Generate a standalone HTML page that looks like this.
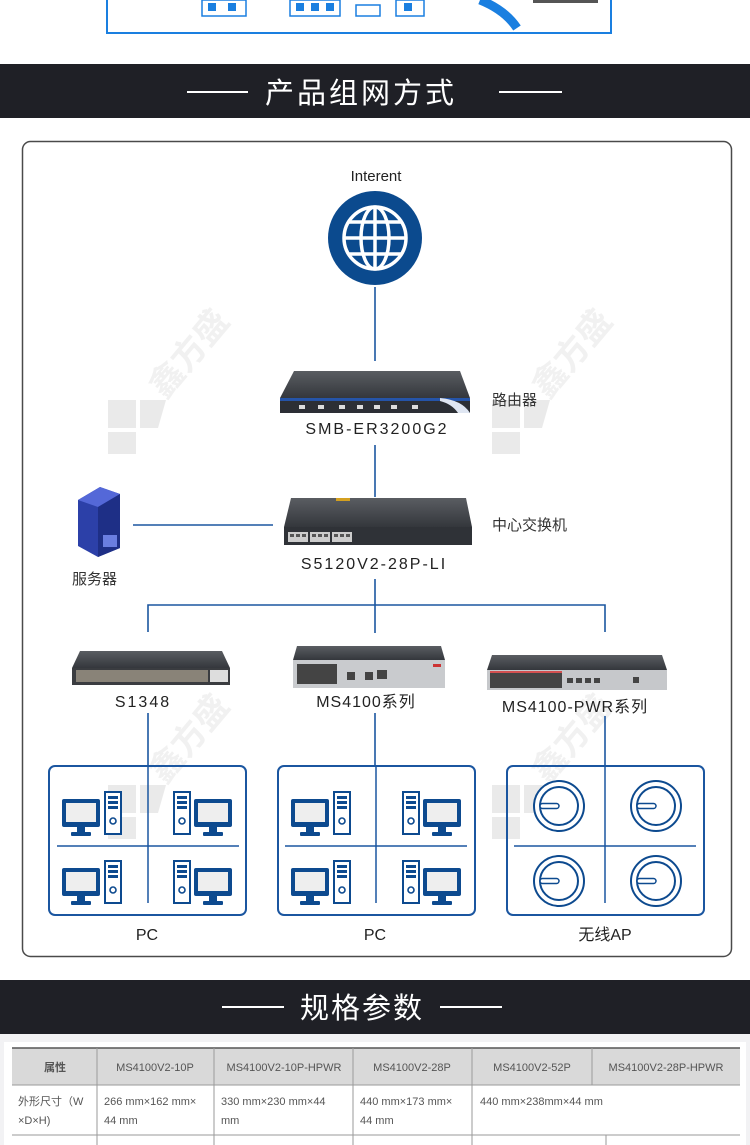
<!DOCTYPE html>
<html><head><meta charset="utf-8"><style>
body{margin:0;width:750px;height:1145px;overflow:hidden;background:#fff;font-family:"Liberation Sans","Noto Sans CJK SC",sans-serif}
svg{display:block}
</style></head><body>
<svg width="750" height="1145" viewBox="0 0 750 1145" xmlns="http://www.w3.org/2000/svg" font-family="Liberation Sans, Noto Sans CJK SC, sans-serif">
<defs>
<g id="mon"><rect x="0" y="6" width="38" height="28" rx="2" fill="#0d4a8f"/><rect x="4" y="10" width="30" height="19" fill="#eeeeee"/><rect x="15" y="34" width="8" height="6" fill="#0d4a8f"/><rect x="9" y="39" width="20" height="4" rx="1" fill="#0d4a8f"/></g>
<g id="tow"><rect x="1" y="1" width="16" height="42" fill="#fff" stroke="#0d4a8f" stroke-width="2"/><rect x="4" y="5" width="10" height="3" fill="#0d4a8f"/><rect x="4" y="10" width="10" height="3" fill="#0d4a8f"/><rect x="4" y="15" width="10" height="3" fill="#0d4a8f"/><circle cx="9" cy="30" r="3" fill="none" stroke="#0d4a8f" stroke-width="1.6"/></g>
<g id="pcL"><use href="#mon" x="0" y="2"/><use href="#tow" x="42" y="0"/></g>
<g id="pcR"><use href="#tow" x="0" y="0"/><use href="#mon" x="21" y="2"/></g>
<g id="ap"><circle r="25" fill="#fff" stroke="#0d4a8f" stroke-width="2"/><circle r="19" fill="none" stroke="#0d4a8f" stroke-width="2"/><rect x="-19" y="-2.5" width="19" height="5" rx="2.5" fill="#fff" stroke="#0d4a8f" stroke-width="1.5"/></g>
<linearGradient id="dk" x1="0" y1="0" x2="0" y2="1"><stop offset="0" stop-color="#5a5d62"/><stop offset="1" stop-color="#34373c"/></linearGradient>
<g id="wm" fill="#d9d9d9" opacity="0.55"><path d="M0 0h28v28h-28z"/><path d="M32 0h26l-8 28h-18z"/><path d="M0 32h28v22h-28z"/></g>
</defs>

<rect x="0" y="0" width="750" height="64" fill="#fff"/>
<path d="M107 0V33H611V0" fill="none" stroke="#1a7fe0" stroke-width="2"/>
<g fill="none" stroke="#1a7fe0" stroke-width="1.5"><rect x="202" y="0" width="44" height="16"/><rect x="290" y="0" width="50" height="16"/><rect x="356" y="5" width="24" height="11"/><rect x="396" y="0" width="28" height="16"/></g>
<g fill="#1a7fe0"><rect x="208" y="3" width="8" height="8"/><rect x="228" y="3" width="8" height="8"/><rect x="296" y="3" width="8" height="8"/><rect x="311" y="3" width="8" height="8"/><rect x="326" y="3" width="8" height="8"/><rect x="404" y="3" width="8" height="8"/></g>
<path d="M480 0 Q505 10 517 28" fill="none" stroke="#1a7fe0" stroke-width="9"/>
<rect x="533" y="0" width="65" height="3" fill="#555"/>

<rect x="0" y="64" width="750" height="54" fill="#1f2026"/>
<line x1="187" y1="92" x2="248" y2="92" stroke="#fff" stroke-width="2"/>
<line x1="499" y1="92" x2="562" y2="92" stroke="#fff" stroke-width="2"/>
<text x="361" y="103" font-size="29" fill="#fff" text-anchor="middle" letter-spacing="3">产品组网方式</text>

<rect x="22.5" y="141.5" width="709" height="815" rx="8" fill="#fff" stroke="#4a4a4a" stroke-width="1.5"/>

<use href="#wm" x="108" y="400"/><use href="#wm" x="492" y="400"/><use href="#wm" x="108" y="785"/><use href="#wm" x="492" y="785"/>
<g fill="#e2e2e2" opacity="0.5" font-size="34" font-weight="bold"><text transform="translate(165,400) rotate(-50)">鑫方盛</text><text transform="translate(548,400) rotate(-50)">鑫方盛</text><text transform="translate(165,785) rotate(-50)">鑫方盛</text><text transform="translate(548,785) rotate(-50)">鑫方盛</text></g>

<text x="376" y="181" font-size="15" fill="#222" text-anchor="middle">Interent</text>
<circle cx="375" cy="238" r="47" fill="#0b4a8e"/>
<g fill="none" stroke="#fff" stroke-width="3.5"><circle cx="375" cy="238" r="31"/><ellipse cx="375" cy="238" rx="14" ry="31"/><line x1="375" y1="207" x2="375" y2="269"/><line x1="344" y1="238" x2="406" y2="238"/><line x1="349" y1="222" x2="401" y2="222"/><line x1="349" y1="254" x2="401" y2="254"/></g>

<g stroke="#1b56a0" stroke-width="1.6" fill="none">
<line x1="375" y1="287" x2="375" y2="361"/>
<line x1="375" y1="445" x2="375" y2="497"/>
<line x1="133" y1="525" x2="273" y2="525"/>
<line x1="375" y1="579" x2="375" y2="633"/>
<path d="M148 632V605H605V632"/>
<line x1="148" y1="713" x2="148" y2="766"/>
<line x1="375" y1="713" x2="375" y2="766"/>
<line x1="605" y1="716" x2="605" y2="766"/>
</g>

<path d="M294 371H460L470 398H280Z" fill="url(#dk)"/>
<rect x="280" y="398" width="190" height="15" fill="#2c2f35"/>
<rect x="280" y="398" width="190" height="3" fill="#2554a8"/>
<path d="M440 398Q462 400 470 413H458Q452 404 440 401Z" fill="#dfe6f2"/>
<g fill="#ddd"><rect x="299" y="405" width="6" height="4"/><rect x="318" y="405" width="6" height="4"/><rect x="339" y="405" width="6" height="4"/><rect x="357" y="405" width="6" height="4"/><rect x="374" y="405" width="6" height="4"/><rect x="391" y="405" width="6" height="4"/><rect x="412" y="405" width="6" height="4"/></g>
<text x="377" y="434" font-size="16" fill="#222" text-anchor="middle" letter-spacing="2">SMB-ER3200G2</text>
<text x="492" y="405" font-size="15" fill="#333">路由器</text>

<path d="M291 498H466L472 527H284Z" fill="url(#dk)"/>
<rect x="284" y="527" width="188" height="18" fill="#2f3237"/>
<rect x="336" y="498" width="14" height="3" fill="#d4a020"/>
<g fill="#ccc"><rect x="288" y="532" width="20" height="10"/><rect x="310" y="532" width="20" height="10"/><rect x="332" y="532" width="20" height="10"/></g>
<g fill="#555"><rect x="290" y="534" width="4" height="3"/><rect x="296" y="534" width="4" height="3"/><rect x="302" y="534" width="4" height="3"/><rect x="312" y="534" width="4" height="3"/><rect x="318" y="534" width="4" height="3"/><rect x="324" y="534" width="4" height="3"/><rect x="334" y="534" width="4" height="3"/><rect x="340" y="534" width="4" height="3"/><rect x="346" y="534" width="4" height="3"/></g>
<text x="374" y="569" font-size="16" fill="#222" text-anchor="middle" letter-spacing="2">S5120V2-28P-LI</text>
<text x="492" y="530" font-size="15" fill="#333">中心交换机</text>

<path d="M78 500L100 487L120 494V548L98 557L78 546Z" fill="#2c40a8"/>
<path d="M78 500L100 487L120 494L98 507Z" fill="#5468d8"/>
<path d="M98 507L120 494V548L98 557Z" fill="#1e2f86"/>
<rect x="103" y="535" width="14" height="12" fill="#6a7ee0"/>
<text x="72" y="584" font-size="15" fill="#333">服务器</text>

<path d="M80 651H222L230 668H72Z" fill="url(#dk)"/>
<rect x="72" y="668" width="158" height="17" fill="#3a3c40"/>
<rect x="76" y="670" width="132" height="12" fill="#d8c9b0" opacity="0.5"/>
<rect x="210" y="670" width="18" height="12" fill="#ddd"/>
<text x="143" y="707" font-size="16" fill="#222" text-anchor="middle" letter-spacing="2">S1348</text>

<path d="M297 646H441L445 660H293Z" fill="url(#dk)"/>
<rect x="293" y="660" width="152" height="28" fill="#c9cbce"/>
<rect x="297" y="664" width="40" height="20" fill="#444"/>
<rect x="347" y="672" width="8" height="8" fill="#444"/><rect x="365" y="672" width="8" height="8" fill="#444"/><rect x="377" y="670" width="10" height="9" fill="#444"/>
<rect x="433" y="664" width="8" height="3" fill="#c33"/>
<text x="366" y="707" font-size="16" fill="#222" text-anchor="middle" letter-spacing="1">MS4100系列</text>

<path d="M492 655H662L667 670H487Z" fill="url(#dk)"/>
<rect x="487" y="670" width="180" height="20" fill="#c6c8cb"/>
<rect x="490" y="672" width="72" height="16" fill="#444"/>
<rect x="490" y="671" width="72" height="2" fill="#d35050"/>
<g fill="#444"><rect x="567" y="678" width="6" height="5"/><rect x="576" y="678" width="6" height="5"/><rect x="585" y="678" width="6" height="5"/><rect x="594" y="678" width="6" height="5"/><rect x="633" y="677" width="6" height="6"/></g>
<text x="575" y="712" font-size="16" fill="#222" text-anchor="middle" letter-spacing="1">MS4100-PWR系列</text>

<g fill="none" stroke="#1b56a0" stroke-width="2">
<rect x="49" y="766" width="197" height="149" rx="6"/>
<rect x="278" y="766" width="197" height="149" rx="6"/>
<rect x="507" y="766" width="197" height="149" rx="6"/>
</g>
<g stroke="#1b56a0" stroke-width="1.5">
<line x1="148" y1="766" x2="148" y2="903"/><line x1="57" y1="846" x2="239" y2="846"/>
<line x1="376" y1="766" x2="376" y2="903"/><line x1="285" y1="846" x2="467" y2="846"/>
<line x1="605" y1="766" x2="605" y2="903"/><line x1="514" y1="846" x2="696" y2="846"/>
</g>
<use href="#pcL" x="62" y="791"/><use href="#pcR" x="173" y="791"/><use href="#pcL" x="62" y="860"/><use href="#pcR" x="173" y="860"/>
<use href="#pcL" x="291" y="791"/><use href="#pcR" x="402" y="791"/><use href="#pcL" x="291" y="860"/><use href="#pcR" x="402" y="860"/>
<use href="#ap" x="559" y="806"/><use href="#ap" x="656" y="806"/><use href="#ap" x="559" y="881"/><use href="#ap" x="656" y="881"/>
<g font-size="16" fill="#222" text-anchor="middle"><text x="147" y="940">PC</text><text x="375" y="940">PC</text><text x="605" y="940">无线AP</text></g>

<rect x="0" y="980" width="750" height="54" fill="#1f2026"/>
<line x1="222" y1="1007" x2="284" y2="1007" stroke="#fff" stroke-width="2"/>
<line x1="440" y1="1007" x2="502" y2="1007" stroke="#fff" stroke-width="2"/>
<text x="362" y="1018" font-size="29" fill="#fff" text-anchor="middle" letter-spacing="2">规格参数</text>
<rect x="0" y="1034" width="750" height="111" fill="#f2f2f4"/>
<rect x="4" y="1042" width="742" height="103" fill="#fff"/>

<rect x="12" y="1048" width="728" height="37" fill="#d9d9d9"/>
<g stroke="#9a9a9a" stroke-width="1">
<line x1="12" y1="1048" x2="740" y2="1048" stroke="#555" stroke-width="1.5"/>
<line x1="12" y1="1085" x2="740" y2="1085"/>
<line x1="12" y1="1135" x2="740" y2="1135"/>
<line x1="97" y1="1048" x2="97" y2="1145"/>
<line x1="214" y1="1048" x2="214" y2="1145"/>
<line x1="353" y1="1048" x2="353" y2="1145"/>
<line x1="472" y1="1048" x2="472" y2="1145"/>
<line x1="592" y1="1048" x2="592" y2="1085"/>
<line x1="606" y1="1135" x2="606" y2="1145"/>
</g>
<g font-size="11" fill="#555" text-anchor="middle">
<text x="55" y="1071" font-weight="bold">属性</text>
<text x="155" y="1071">MS4100V2-10P</text>
<text x="284" y="1071">MS4100V2-10P-HPWR</text>
<text x="412" y="1071">MS4100V2-28P</text>
<text x="532" y="1071">MS4100V2-52P</text>
<text x="666" y="1071">MS4100V2-28P-HPWR</text>
</g>
<g font-size="11" fill="#555">
<text x="18" y="1105">外形尺寸（W</text><text x="18" y="1124">×D×H)</text>
<text x="104" y="1105">266 mm×162 mm×</text><text x="104" y="1124">44 mm</text>
<text x="221" y="1105">330  mm×230  mm×44</text><text x="221" y="1124">mm</text>
<text x="360" y="1105">440 mm×173 mm×</text><text x="360" y="1124">44 mm</text>
<text x="480" y="1105">440 mm×238mm×44 mm</text>
</g>
</svg>
</body></html>
